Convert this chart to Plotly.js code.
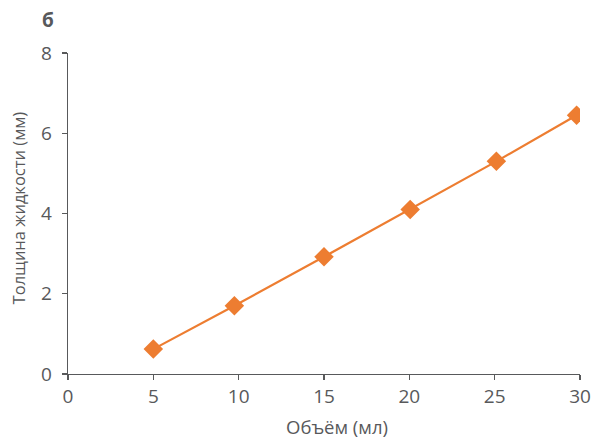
<!DOCTYPE html>
<html>
<head>
<meta charset="utf-8">
<script src="https://cdn.plot.ly/plotly-3.0.1.min.js"></script>
<style>html,body{margin:0;padding:0;background:#fff;}#chart{width:594px;height:440px;}</style>
</head>
<body>
<div id="chart"></div>
<script>
const volumeMl = [5, 9.75, 15, 20.05, 25.1, 29.8];
const thicknessMm = [0.62, 1.70, 2.92, 4.10, 5.30, 6.45];
const xTicks = [0, 5, 10, 15, 20, 25, 30];
const yTicks = [0, 2, 4, 6, 8];

const fontFam = '"Open Sans", "Noto Sans", sans-serif';
const grey = '#58595b';

Plotly.newPlot('chart', [{
  x: volumeMl,
  y: thicknessMm,
  type: 'scatter',
  mode: 'lines+markers',
  line: {color: '#ED7D31', width: 2.2},
  marker: {symbol: 'diamond', size: 15, color: '#ED7D31'},
  hoverinfo: 'none'
}], {
  width: 594, height: 440,
  margin: {l: 68, r: 14, t: 53, b: 66},
  paper_bgcolor: '#fff', plot_bgcolor: '#fff',
  showlegend: false,
  font: {family: fontFam, color: grey, size: 17},
  annotations: [
    {
      text: '<b>б</b>', xref: 'paper', yref: 'paper', x: -0.039, y: 1.104,
      xanchor: 'center', yanchor: 'middle', showarrow: false,
      font: {family: fontFam, size: 19, color: grey}
    },
    {
      text: 'Объём (мл)', xref: 'paper', yref: 'paper', x: 0.525, y: -0.163,
      xanchor: 'center', yanchor: 'middle', showarrow: false,
      font: {family: fontFam, size: 18.5, color: grey}
    },
    {
      text: 'Толщина жидкости (мм)', xref: 'paper', yref: 'paper', x: -0.097, y: 0.517,
      xanchor: 'center', yanchor: 'middle', showarrow: false, textangle: -90,
      font: {family: fontFam, size: 16.5, color: grey}
    }
  ],
  xaxis: {
    range: [0, 30], tickvals: xTicks, ticktext: xTicks.map(String),
    showgrid: false, zeroline: false, showline: true, linecolor: grey, linewidth: 1.3,
    ticks: 'outside', ticklen: 5, tickcolor: grey, tickwidth: 1.2,
    tickfont: {size: 19, color: grey, family: fontFam}
  },
  yaxis: {
    range: [0, 8], tickvals: yTicks, ticktext: yTicks.map(String),
    showgrid: false, zeroline: false, showline: true, linecolor: grey, linewidth: 1.3,
    ticks: 'outside', ticklen: 5, tickcolor: grey, tickwidth: 1.2,
    ticklabelstandoff: 6,
    tickfont: {size: 19, color: grey, family: fontFam}
  }
}, {staticPlot: true, displayModeBar: false});
</script>
</body>
</html>
